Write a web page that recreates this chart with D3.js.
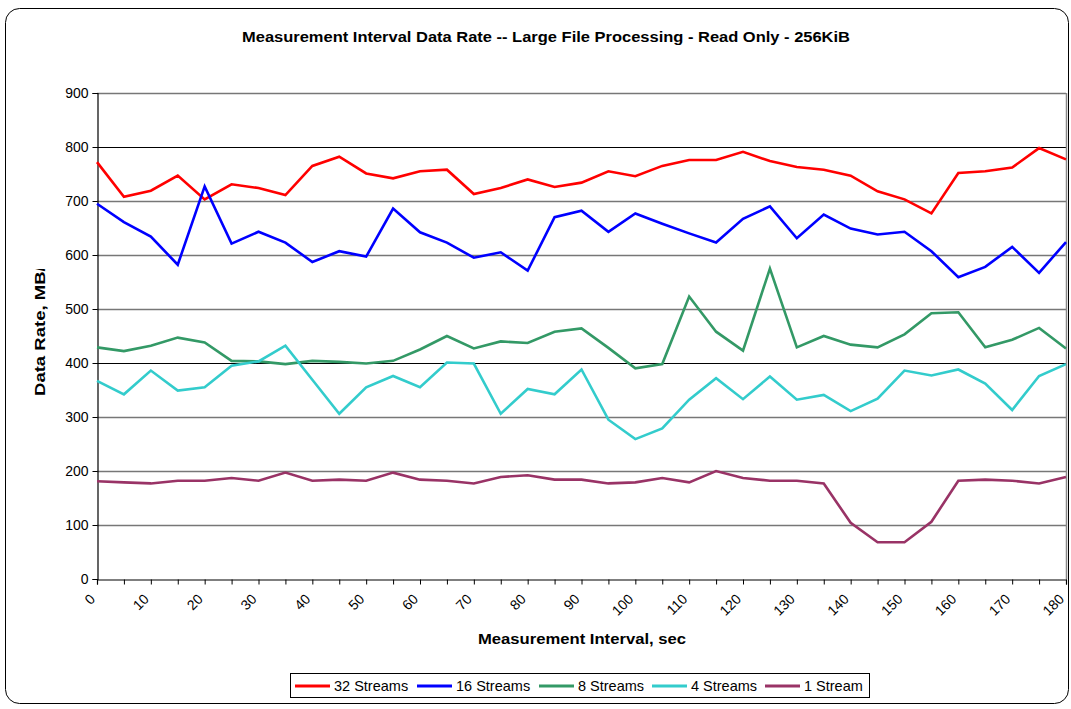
<!DOCTYPE html>
<html>
<head>
<meta charset="utf-8">
<script src="https://cdn.jsdelivr.net/npm/d3@7"></script>
<style>
  html, body { margin: 0; padding: 0; background: #fff; }
  svg { display: block; font-family: "Liberation Sans", Arial, sans-serif; }
</style>
</head>
<body>
<svg id="chart" width="1071" height="709"></svg>
<script>
const seconds = [0,5,10,15,20,25,30,35,40,45,50,55,60,65,70,75,80,85,90,95,100,105,110,115,120,125,130,135,140,145,150,155,160,165,170,175,180];
const xTickLabels = [0,10,20,30,40,50,60,70,80,90,100,110,120,130,140,150,160,170,180];
const yTickLabels = [0,100,200,300,400,500,600,700,800,900];

const streams32 = [772,708,719,747,703,731,724,711,765,782,751,742,755,758,713,724,740,726,734,755,746,765,776,776,791,774,763,758,747,718,703,677,752,755,762,798,777];
const streams16 = [695,661,634,582,727,621,643,623,587,607,597,686,642,623,595,605,571,670,682,643,677,658,640,623,667,690,631,675,649,638,643,607,559,578,615,567,624];
const streams8  = [429,422,432,447,438,404,403,398,404,402,399,404,425,450,427,440,437,458,464,428,390,398,523,458,423,575,429,450,434,429,453,492,494,429,443,465,427];
const streams4  = [367,342,386,349,355,395,403,432,369,306,355,376,355,401,399,306,352,342,388,295,259,279,332,372,333,375,332,341,311,334,386,377,388,362,313,376,398];
const streams1  = [181,179,177,182,182,187,182,197,182,184,182,197,184,182,177,189,192,184,184,177,179,187,179,200,187,182,182,177,104,68,68,106,182,184,182,177,189];

const seriesNames = ["32 Streams","16 Streams","8 Streams","4 Streams","1 Stream"];
const seriesColors = ["#FF0000","#0000FF","#339966","#33CCCC","#993366"];
const seriesValues = [streams32, streams16, streams8, streams4, streams1];

const svg = d3.select("#chart");

// outer rounded border
svg.append("rect")
  .attr("x", 5.5).attr("y", 8.5).attr("width", 1063).attr("height", 695)
  .attr("rx", 14).attr("ry", 14)
  .attr("fill", "#fff").attr("stroke", "#000").attr("stroke-width", 1);

const plotL = 97, plotR = 1066, plotT = 93, plotB = 579;
const x = d3.scaleLinear().domain([0, 180]).range([plotL, plotR]);
const y = d3.scaleLinear().domain([0, 900]).range([plotB, plotT]);

// title
svg.append("text")
  .attr("x", 546).attr("y", 42)
  .attr("text-anchor", "middle")
  .attr("font-weight", "bold").attr("font-size", 14)
  .attr("textLength", 608).attr("lengthAdjust", "spacingAndGlyphs")
  .text("Measurement Interval Data Rate -- Large File Processing - Read Only - 256KiB");

// gridlines
const gridColor = v => (v === 800 || v === 400) ? "#000" : "#777";
svg.append("g").selectAll("line")
  .data(yTickLabels.filter(v => v > 0))
  .join("line")
  .attr("x1", plotL).attr("x2", plotR)
  .attr("y1", d => Math.round(y(d)) + 0.5).attr("y2", d => Math.round(y(d)) + 0.5)
  .attr("stroke", gridColor)
  .attr("stroke-width", d => (d === 800 || d === 400) ? 1 : 1.5);

// right border of plot
svg.append("line")
  .attr("x1", plotR + 0.5).attr("x2", plotR + 0.5)
  .attr("y1", plotT).attr("y2", plotB)
  .attr("stroke", "#888").attr("stroke-width", 1.5);

// Y axis
const yAxis = d3.axisLeft(y).tickValues(yTickLabels).tickSize(5).tickPadding(4);
const gy = svg.append("g").attr("transform", `translate(${plotL + 0.5},0)`).call(yAxis);
gy.select(".domain").attr("stroke", "#000").attr("stroke-width", 1.2);
gy.selectAll(".tick line").attr("stroke", "#000");
gy.selectAll(".tick text").attr("font-size", 14).attr("fill", "#000")
  .attr("font-family", "Liberation Sans, Arial, sans-serif");

// X axis
const xAxis = d3.axisBottom(x).tickValues(seconds).tickSize(5).tickFormat("");
const gx = svg.append("g").attr("transform", `translate(0,${plotB + 0.5})`).call(xAxis);
gx.select(".domain").attr("stroke", "#000").attr("stroke-width", 1.2);
gx.selectAll(".tick line").attr("stroke", "#000");

svg.append("g").selectAll("text")
  .data(xTickLabels)
  .join("text")
  .attr("transform", d => `translate(${x(d) - 1},${plotB + 21}) rotate(-45)`)
  .attr("text-anchor", "end")
  .attr("font-size", 14)
  .text(d => d);

// axis titles
svg.append("text")
  .attr("x", 582).attr("y", 644)
  .attr("text-anchor", "middle")
  .attr("font-weight", "bold").attr("font-size", 15)
  .attr("textLength", 208).attr("lengthAdjust", "spacingAndGlyphs")
  .text("Measurement Interval, sec");

svg.append("defs").append("clipPath").attr("id", "ytclip")
  .append("rect").attr("x", 0).attr("y", 269).attr("width", 90).attr("height", 200);
svg.append("g")
  .attr("clip-path", "url(#ytclip)")
  .append("text")
  .attr("transform", "translate(45,396) rotate(-90)")
  .attr("text-anchor", "start")
  .attr("font-weight", "bold").attr("font-size", 15)
  .attr("textLength", 140).attr("lengthAdjust", "spacingAndGlyphs")
  .text("Data Rate, MB/s");

// lines
const line = d3.line().x((d, i) => x(seconds[i])).y(d => y(d));
svg.append("g").selectAll("path")
  .data(seriesValues)
  .join("path")
  .attr("d", d => line(d))
  .attr("fill", "none")
  .attr("stroke", (d, i) => seriesColors[i])
  .attr("stroke-width", 2.6)
  .attr("stroke-linejoin", "miter");

// legend
svg.append("rect")
  .attr("x", 290.5).attr("y", 673.5).attr("width", 579).attr("height", 24)
  .attr("fill", "#fff").attr("stroke", "#000").attr("stroke-width", 1);

const legendX = [295, 417, 539, 652, 765];
const lg = svg.append("g").selectAll("g")
  .data(seriesNames)
  .join("g")
  .attr("transform", (d, i) => `translate(${legendX[i]},686)`);
lg.append("line")
  .attr("x1", 0).attr("x2", 35).attr("y1", 0).attr("y2", 0)
  .attr("stroke", (d, i) => seriesColors[i]).attr("stroke-width", 3);
lg.append("text")
  .attr("x", 39).attr("y", 5)
  .attr("font-size", 14.5)
  .text(d => d);
</script>
</body>
</html>
